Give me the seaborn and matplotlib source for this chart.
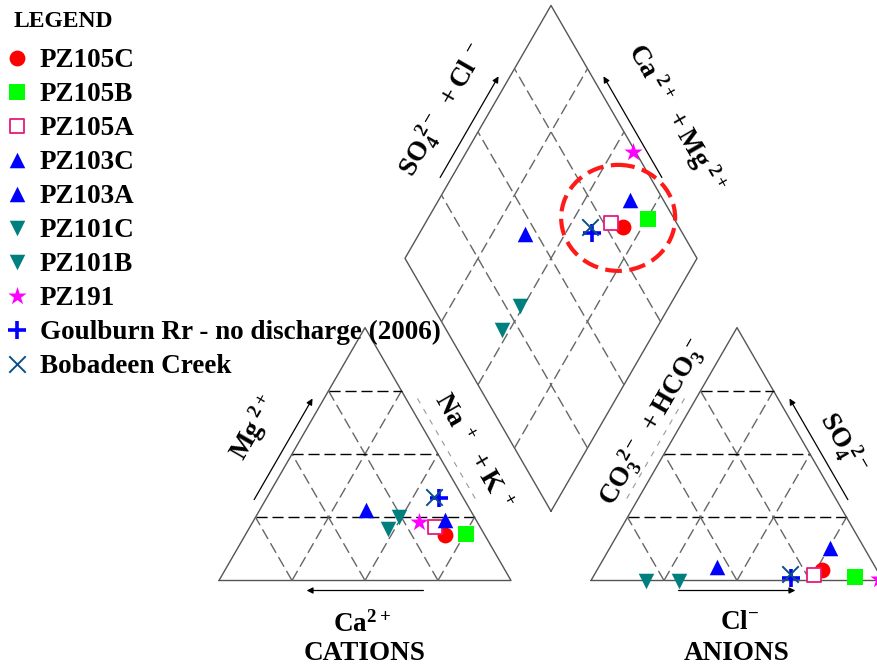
import numpy as np
import matplotlib.pyplot as plt
import seaborn as sns
from matplotlib.patches import Ellipse

# samples, percent of meq (cations: Mg, Na+K ; anions: SO4, Cl)
samples = ['PZ105C', 'PZ105B', 'PZ105A', 'PZ103C', 'PZ103A', 'PZ101C',
           'PZ101B', 'PZ191', 'Goulburn Rr - no discharge (2006)', 'Bobadeen Creek']
mg_pct = [18, 18.5, 21, 24, 28, 25, 20.5, 23, 32.5, 33]
nak_pct = [68.5, 75.5, 63.5, 65.5, 36.5, 49, 47.5, 57, 59, 57]
so4_pct = [4, 1.5, 2, 13, 5.5, 0, 0, 0.5, 1, 2.5]
cl_pct = [77, 89.5, 75.5, 75.5, 40.5, 30, 19, 98.5, 68, 67]

# marker styles per sample
styles = {
    'PZ105C': dict(marker='o', s=130, color='#ff0000', edgecolor='#ff0000', linewidth=0),
    'PZ105B': dict(marker='s', s=135, color='#00ff00', edgecolor='#00ff00', linewidth=0),
    'PZ105A': dict(marker='s', s=105, color='white', edgecolor='#e8197d', linewidth=1.3),
    'PZ103C': dict(marker='^', s=125, color='#0000ff', edgecolor='#0000ff', linewidth=0),
    'PZ103A': dict(marker='^', s=125, color='#0000ff', edgecolor='#0000ff', linewidth=0),
    'PZ101C': dict(marker='v', s=125, color='#007f7f', edgecolor='#007f7f', linewidth=0),
    'PZ101B': dict(marker='v', s=125, color='#007f7f', edgecolor='#007f7f', linewidth=0),
    'PZ191': dict(marker='*', s=190, color='#ff00ff', edgecolor='#ff00ff', linewidth=0),
    'Goulburn Rr - no discharge (2006)': dict(marker='+', s=170, color='#0000ff', linewidth=2.6),
    'Bobadeen Creek': dict(marker='x', s=140, color='#0b4f8a', linewidth=1.4),
}

sns.set_theme(style='white')
plt.rcParams['font.family'] = ['Liberation Serif', 'DejaVu Serif']
plt.rcParams['font.weight'] = 'bold'
plt.rcParams['text.color'] = 'black'
plt.rcParams['mathtext.fontset'] = 'custom'
plt.rcParams['mathtext.rm'] = 'Liberation Serif:bold'
plt.rcParams['mathtext.it'] = 'Liberation Serif:bold'
plt.rcParams['mathtext.bf'] = 'Liberation Serif:bold'

fig = plt.figure(figsize=(8.77, 6.66), dpi=100)
ax = fig.add_axes([0, 0, 1, 1])
ax.set_xlim(0, 877)
ax.set_ylim(666, 0)
ax.axis('off')

# piper geometry (pixel units)
S = 292.0
H = S * np.sqrt(3) / 2
X0, Y0 = 219.0, 580.5
GAP = 80.0
XA = X0 + S + GAP
XB, YB = X0 + S + GAP / 2, Y0 - GAP / 2 * np.sqrt(3)


def cation_xy(mg, nak):
    mg, nak = np.asarray(mg) / 100, np.asarray(nak) / 100
    return X0 + S * (nak + mg / 2), Y0 - H * mg


def anion_xy(so4, cl):
    so4, cl = np.asarray(so4) / 100, np.asarray(cl) / 100
    return XA + S * (cl + so4 / 2), Y0 - H * so4


def diamond_xy(cm, sc):
    cm, sc = np.asarray(cm) / 100, np.asarray(sc) / 100
    return XB + S / 2 * (sc - cm), YB - H * (sc + cm)


def seg(p, q, **kw):
    ax.plot([p[0], q[0]], [p[1], q[1]], **kw)


edge_kw = dict(color='#555555', lw=1.0, zorder=1)
grey_dash = dict(color='#666666', lw=1.0, ls=(0, (8, 3.5)), zorder=1)
black_dash = dict(color='black', lw=1.0, ls=(0, (8, 3.5)), zorder=1)

# triangles
for tri in (cation_xy, anion_xy):
    corners = [tri(0, 0), tri(0, 100), tri(100, 0), tri(0, 0)]
    ax.plot([c[0] for c in corners], [c[1] for c in corners], **edge_kw)
    for v in (25, 50, 75):
        seg(tri(v, 0), tri(v, 100 - v), **black_dash)
        seg(tri(0, v), tri(100 - v, v), **grey_dash)
        seg(tri(0, 100 - v), tri(100 - v, 0), **grey_dash)

# diamond
corners = [diamond_xy(0, 0), diamond_xy(100, 0), diamond_xy(100, 100),
           diamond_xy(0, 100), diamond_xy(0, 0)]
ax.plot([c[0] for c in corners], [c[1] for c in corners], **edge_kw)
for v in (25, 50, 75):
    seg(diamond_xy(v, 0), diamond_xy(v, 100), **grey_dash)
    seg(diamond_xy(0, v), diamond_xy(100, v), **grey_dash)


def side_arrow(a, b, centre, head=True):
    a, b, centre = np.array(a), np.array(b), np.array(centre)
    d = b - a
    n = np.array([-d[1], d[0]]) / np.hypot(*d)
    if np.dot(n, a - centre) < 0:
        n = -n
    p, q = a + 0.3 * d + 10 * n, a + 0.7 * d + 10 * n
    if head:
        ax.annotate('', xy=q, xytext=p,
                    arrowprops=dict(arrowstyle='-|>', color='black', lw=0.9,
                                    mutation_scale=9, shrinkA=0, shrinkB=0))
    else:
        seg(p, q, color='#999999', lw=0.8, ls=(0, (5, 6)), zorder=1)


cat_c = np.mean([cation_xy(0, 0), cation_xy(0, 100), cation_xy(100, 0)], axis=0)
an_c = np.mean([anion_xy(0, 0), anion_xy(0, 100), anion_xy(100, 0)], axis=0)
dia_c = np.array(diamond_xy(50, 50))
side_arrow(cation_xy(0, 0), cation_xy(100, 0), cat_c)
side_arrow(cation_xy(0, 100), cation_xy(0, 0), cat_c)
side_arrow(cation_xy(100, 0), cation_xy(0, 100), cat_c, head=False)
side_arrow(anion_xy(0, 0), anion_xy(0, 100), an_c)
side_arrow(anion_xy(0, 100), anion_xy(100, 0), an_c)
side_arrow(anion_xy(100, 0), anion_xy(0, 0), an_c, head=False)
side_arrow(diamond_xy(100, 0), diamond_xy(100, 100), dia_c)
side_arrow(diamond_xy(0, 100), diamond_xy(100, 100), dia_c)

# data points in all three fields
cx, cy = cation_xy(mg_pct, nak_pct)
axx, ayy = anion_xy(so4_pct, cl_pct)
cm = 100 - np.asarray(nak_pct)
sc = np.asarray(so4_pct) + np.asarray(cl_pct)
dx, dy = diamond_xy(cm, sc)

for i, name in enumerate(samples):
    sns.scatterplot(x=[cx[i], axx[i], dx[i]], y=[cy[i], ayy[i], dy[i]],
                    ax=ax, legend=False, zorder=5 + i, clip_on=False, **styles[name])

# highlighted cluster
ex, ey = diamond_xy(35, 81)
ax.add_patch(Ellipse((ex, ey), 114, 106, fill=False, ec='#ff1a1a', lw=3,
                     ls=(0, (4, 1.8)), zorder=20))

# axis labels
fs = 19.5
ax.text(444, 110, r'$\mathrm{SO_4^{\ 2-}\ +Cl^{\ -}}$', fontsize=fs, rotation=60,
        rotation_mode='anchor', ha='center', va='center')
ax.text(676, 118, r'$\mathrm{Ca^{\ 2+}\ +Mg^{\ 2+}}$', fontsize=fs, rotation=-60,
        rotation_mode='anchor', ha='center', va='center')
ax.text(254, 428, r'$\mathrm{Mg^{\ 2+}}$', fontsize=fs, rotation=60,
        rotation_mode='anchor', ha='center', va='center')
ax.text(472, 452, r'$\mathrm{Na^{\ +}\ +K^{\ +}}$', fontsize=fs, rotation=-60,
        rotation_mode='anchor', ha='center', va='center')
ax.text(653, 422, r'$\mathrm{CO_3^{\ 2-}\ +HCO_3^{\ -}}$', fontsize=fs, rotation=60,
        rotation_mode='anchor', ha='center', va='center')
ax.text(842, 443, r'$\mathrm{SO_4^{\ 2-}}$', fontsize=fs, rotation=-60,
        rotation_mode='anchor', ha='center', va='center')
ax.text(362, 632, r'$\mathrm{Ca^{2+}}$', fontsize=fs, ha='center', va='baseline')
ax.text(365, 660, 'CATIONS', fontsize=fs, fontweight='bold', ha='center', va='baseline')
ax.text(740, 629, r'$\mathrm{Cl^{-}}$', fontsize=fs, ha='center', va='baseline')
ax.text(737, 660, 'ANIONS', fontsize=fs, fontweight='bold', ha='center', va='baseline')

# legend
ax.text(14, 27, 'LEGEND', fontsize=17, fontweight='bold', va='baseline')
for i, name in enumerate(samples):
    row_y = 57.5 + 34 * i
    sns.scatterplot(x=[17], y=[row_y], ax=ax, legend=False, zorder=5, **styles[name])
    ax.text(40, row_y + 9.5, name, fontsize=fs, fontweight='bold', va='baseline')

fig.savefig('out.png', dpi=100)
